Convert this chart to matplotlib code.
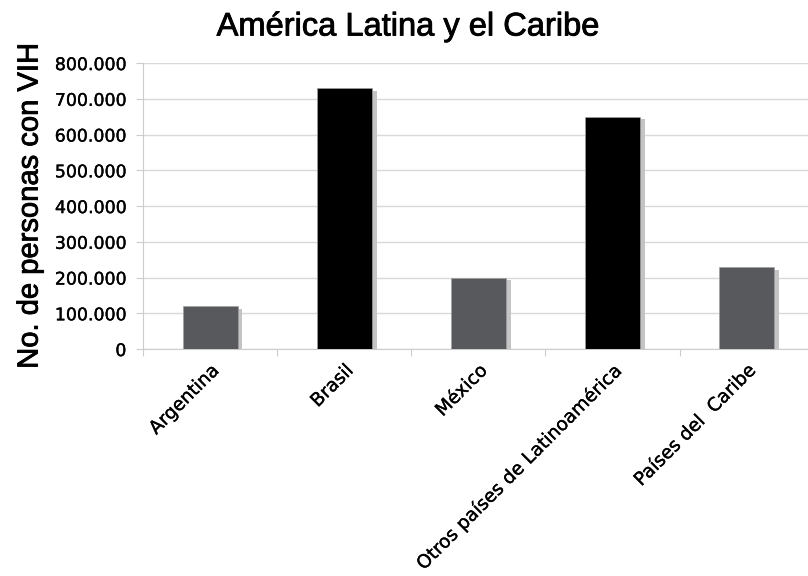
import matplotlib
matplotlib.use("Agg")
import matplotlib.pyplot as plt
import matplotlib.patheffects as pe
from matplotlib.ticker import FuncFormatter
import numpy as np

plt.rcParams["font.family"] = ["Liberation Sans", "DejaVu Sans"]

# data
paises = ["Argentina", "Brasil", "México", "Otros países de Latinoamérica", "Países del  Caribe"]
personas = [120000, 730000, 200000, 650000, 230000]
colores = ["#58595d", "#000000", "#58595d", "#000000", "#58595d"]

fig = plt.figure(figsize=(8.08, 5.76), dpi=100)
ax = fig.add_axes([0.177, 0.394, 0.83, 0.4965])

# slightly heavier text like the original
grueso = [pe.withStroke(linewidth=0.6, foreground="black")]

x = np.arange(len(paises))
sombra = [pe.SimplePatchShadow(offset=(3.5, -2), shadow_rgbFace="#c4c4c4", alpha=1.0), pe.Normal()]
bars = ax.bar(x, personas, width=0.41, color=colores, edgecolor="#a0a0a0", linewidth=0.5, zorder=3)
for b in bars:
    b.set_path_effects(sombra)

ax.set_xlim(-0.5, len(paises) - 0.5)
ax.set_ylim(0, 800000)
ax.set_yticks(np.arange(0, 800001, 100000))
ax.yaxis.set_major_formatter(FuncFormatter(lambda v, p: "0" if v == 0 else f"{int(v):,}".replace(",", ".")))
ax.grid(axis="y", color="#d9d9d9", linewidth=1.0, zorder=0)

# ticks at category boundaries, labels at centres
ax.set_xticks(np.arange(-0.5, len(paises), 1.0))
ax.set_xticklabels([])
ax.set_xticks(x, minor=True)
ax.set_xticklabels(paises, minor=True, rotation=45, ha="right", rotation_mode="anchor",
                   fontsize=13.3, family="DejaVu Sans")
ax.tick_params(axis="x", which="minor", length=0, pad=9)
ax.tick_params(axis="x", which="major", length=5, color="#cccccc")
ax.tick_params(axis="y", length=5, color="#cccccc", labelsize=12.5, pad=7)
for t in ax.get_yticklabels():
    t.set_family("DejaVu Sans")
for t in ax.get_yticklabels() + ax.get_xticklabels(minor=True):
    t.set_path_effects([pe.withStroke(linewidth=0.25, foreground="black")])

for s in ["top", "right"]:
    ax.spines[s].set_visible(False)
ax.spines["left"].set_color("#cccccc")
ax.spines["bottom"].set_color("#cccccc")

ax.set_ylabel("No. de personas con VIH", fontsize=21, labelpad=8, path_effects=grueso)
fig.text(0.505, 1 - 27 / 576, "América Latina y el Caribe", fontsize=23.5, ha="center", va="center",
         path_effects=grueso)

fig.savefig("out.png", dpi=100)
